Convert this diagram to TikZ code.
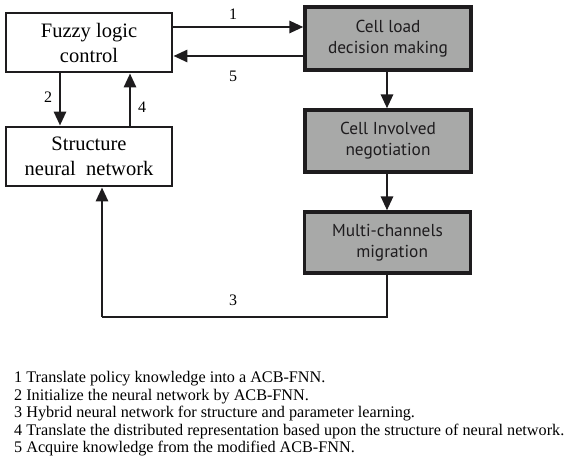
\documentclass[tikz,border=0pt]{standalone}
\usepackage{fontspec}
\setmainfont{Liberation Serif}
\newfontfamily\boxsans{PT Sans}
\usetikzlibrary{arrows.meta}
\definecolor{boxgray}{RGB}{168,169,168}
\definecolor{ink}{RGB}{30,28,30}
\tikzset{
  whitebox/.style={draw=ink, line width=2.8pt, fill=white, inner sep=0pt, minimum width=166pt, minimum height=59pt, align=center, font=\fontsize{20.5}{25}\selectfont},
  graybox/.style={draw=ink, line width=3.2pt, fill=boxgray, inner sep=0pt, minimum width=166pt, align=center, font=\boxsans\fontsize{17.3}{21}\selectfont, text=ink},
  arr/.style={draw=ink, line width=2.8pt, -{Triangle[length=14pt,width=12pt]}},
  plain/.style={draw=ink, line width=2.8pt},
  lbl/.style={font=\fontsize{16}{17}\selectfont, inner sep=0pt},
  legend/.style={font=\fontsize{16.2}{17.5}\selectfont, inner sep=0pt, anchor=west}
}
\begin{document}
\begin{tikzpicture}[x=1pt,y=-1pt]
\useasboundingbox (0,0) rectangle (572,470);
\node[whitebox] (fuzzy) at (89,42.5) {Fuzzy logic\\control};
\node[whitebox] (struct) at (89,156.5) {Structure\\neural\ \ network};
\node[graybox, minimum height=63pt] (cellload) at (388,38.5) {Cell load\\decision making};
\node[graybox, minimum height=62pt] (cellinv) at (388,141) {Cell Involved\\negotiation};
\node[graybox, minimum height=61pt] (multi) at (387.5,242.5) {Multi-channels\\\ \ migration};
\coordinate (c3a) at (387,317);
\coordinate (c3b) at (102,317);
% arrows
\draw[arr] (fuzzy.east |- 0,27) -- (cellload.west |- 0,27);
\draw[arr] (cellload.west |- 0,56) -- (fuzzy.east |- 0,56);
\draw[arr] (fuzzy.south -| 60,0) -- (struct.north -| 60,0);
\draw[arr] (struct.north -| 130,0) -- (fuzzy.south -| 130,0);
\draw[arr] (cellload.south -| 387,0) -- (cellinv.north -| 387,0);
\draw[arr] (cellinv.south -| 387,0) -- (multi.north -| 387,0);
\draw[plain] (multi.south -| c3a) -- (c3a) -- (c3b);
\draw[arr] (c3b) -- (struct.south -| c3b);
% labels
\node[lbl] (l1) at (233,14) {1};
\node[lbl] (l5) at (233,76) {5};
\node[lbl] (l2) at (48,97) {2};
\node[lbl] (l4) at (142,107) {4};
\node[lbl] (l3) at (233,300) {3};
% legend
\node[legend] (g1) at (14,379) {1 Translate policy knowledge into a ACB-FNN.};
\node[legend] (g2) at (14,396.5) {2 Initialize the neural network by ACB-FNN.};
\node[legend] (g3) at (14,414) {3 Hybrid neural network for structure and parameter learning.};
\node[legend] (g4) at (14,431.5) {4 Translate the distributed representation based upon the structure of neural network.};
\node[legend] (g5) at (14,449) {5 Acquire knowledge from the modified ACB-FNN.};
\end{tikzpicture}
\end{document}
